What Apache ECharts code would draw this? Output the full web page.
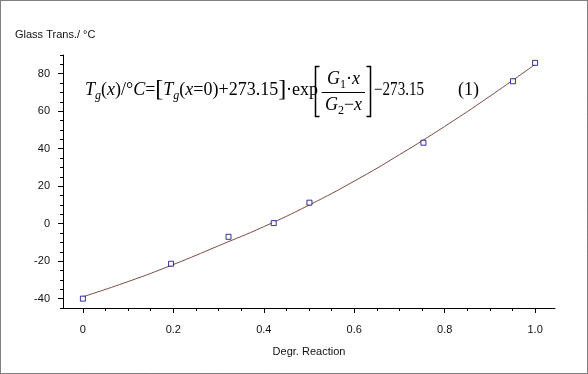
<!DOCTYPE html>
<html><head><meta charset="utf-8">
<script src="https://cdn.jsdelivr.net/npm/echarts@6/dist/echarts.min.js"></script>
<style>html,body{margin:0;padding:0;background:#fff}#c{width:588px;height:374px}</style>
</head><body><div id="c"></div>
<script>
// measured data points (degree of reaction, Tg in °C)
const pointX = [0, 0.195, 0.322, 0.422, 0.501, 0.753, 0.951, 1.0];
const pointY = [-40, -21.4, -7, 0.3, 11.2, 43.2, 76, 85.8];
// fitted curve
const curveX = [0, 0.1, 0.2, 0.3, 0.4, 0.5, 0.6, 0.7, 0.8, 0.9, 1.0];
const curveY = [-39, -30.9, -21.8, -11.8, -1.6, 9.9, 22.7, 36.8, 51.9, 68.0, 85];
// ticks
const xMajor = [0, 0.2, 0.4, 0.6, 0.8, 1.0];
const xMinor = [0.05, 0.1, 0.15, 0.25, 0.3, 0.35, 0.45, 0.5, 0.55, 0.65, 0.7, 0.75, 0.85, 0.9, 0.95];
const yMajor = [-40, -20, 0, 20, 40, 60, 80];
const yMinor = [-45, -35, -30, -25, -15, -10, -5, 5, 10, 15, 25, 30, 35, 45, 50, 55, 65, 70, 75, 85, 90];
const xName = 'Degr. Reaction';
const yName = 'Glass Trans./ °C';

const chart = echarts.init(document.getElementById('c'), null, {renderer: 'canvas'});
const SERIF = 'Liberation Serif';
const rich = {
  n: {fontFamily: SERIF, fontSize: 18, color: '#000'},
  i: {fontFamily: SERIF, fontSize: 18, fontStyle: 'italic', color: '#000'},
  s: {fontFamily: SERIF, fontSize: 12, fontStyle: 'italic', color: '#000', padding: [11, 0, 0, 0]},
  u: {fontFamily: SERIF, fontSize: 12, color: '#000', padding: [11, 0, 0, 0]},
  b: {fontFamily: SERIF, fontSize: 24, color: '#000'}
};
const axisCommon = {color: '#000', width: 1};
const labelFont = {fontFamily: 'Liberation Sans', fontSize: 11, color: '#111'};

chart.setOption({
  animation: false,
  backgroundColor: '#fff',
  grid: {left: 63, right: 33, top: 55, bottom: 66, containLabel: false},
  xAxis: [{
    type: 'value', min: -0.044, max: 1.044, position: 'bottom',
    name: xName, nameLocation: 'middle', nameGap: 38,
    nameTextStyle: {fontFamily: 'Liberation Sans', fontSize: 11, color: '#111'},
    axisLine: {show: true, onZero: false, lineStyle: axisCommon},
    axisTick: {show: true, length: 5, lineStyle: axisCommon, customValues: xMajor},
    axisLabel: Object.assign({margin: 16, customValues: xMajor,
      formatter: v => (Math.abs(v) < 1e-9 ? '0' : v.toFixed(1))}, labelFont),
    splitLine: {show: false}
  }, {
    type: 'value', min: -0.044, max: 1.044, position: 'bottom',
    axisLine: {show: false, onZero: false},
    axisTick: {show: true, length: 3, lineStyle: axisCommon, customValues: xMinor},
    axisLabel: {show: false},
    splitLine: {show: false}
  }],
  yAxis: [{
    type: 'value', min: -45, max: 90, position: 'left',
    axisLine: {show: true, onZero: false, lineStyle: axisCommon},
    axisTick: {show: true, length: 5, lineStyle: axisCommon, customValues: yMajor},
    axisLabel: Object.assign({margin: 13, customValues: yMajor}, labelFont),
    splitLine: {show: false}
  }, {
    type: 'value', min: -45, max: 90, position: 'left',
    axisLine: {show: false, onZero: false},
    axisTick: {show: true, length: 3, lineStyle: axisCommon, customValues: yMinor},
    axisLabel: {show: false},
    splitLine: {show: false}
  }],
  series: [{
    type: 'line', name: 'fit', xAxisIndex: 0, yAxisIndex: 0,
    data: curveX.map((x, k) => [x, curveY[k]]),
    smooth: true, showSymbol: false, silent: true,
    lineStyle: {color: '#7e4a42', width: 1}, z: 2
  }, {
    type: 'scatter', name: 'data', xAxisIndex: 0, yAxisIndex: 0,
    data: pointX.map((x, k) => [x, pointY[k]]),
    symbol: 'rect', symbolSize: 5,
    itemStyle: {color: '#fff', borderColor: '#000080', borderWidth: 1}, z: 3
  }],
  graphic: [
    {type: 'rect', silent: true, shape: {x: 0.5, y: 0.5, width: 587, height: 373},
     style: {fill: 'none', stroke: '#000', lineWidth: 1, lineDash: [1, 1]}},
    {type: 'text', silent: true, x: 15, y: 35,
     style: {text: yName, fontFamily: 'Liberation Sans', fontSize: 11, fill: '#111', verticalAlign: 'middle'}},
    // equation main line
    {type: 'text', silent: true, x: 85, y: 90,
     style: {text: '{i|T}{s|g}{n|(}{i|x}{n|)/°}{i|C}{n|=}{b|[}{i|T}{s|g}{n|(}{i|x}{n|=0)+273.15}{b|]}{n|·exp}',
       rich: rich, verticalAlign: 'middle', align: 'left'}},
    // fraction numerator / denominator
    {type: 'text', silent: true, x: 343.5, y: 79,
     style: {text: '{i|G}{u|1}{n|·}{i|x}', rich: rich, verticalAlign: 'middle', align: 'center'}},
    {type: 'text', silent: true, x: 343.5, y: 105,
     style: {text: '{i|G}{u|2}{n|−}{i|x}', rich: rich, verticalAlign: 'middle', align: 'center'}},
    {type: 'line', silent: true, shape: {x1: 321.7, y1: 92.5, x2: 365, y2: 92.5},
     style: {stroke: '#000', lineWidth: 1}},
    {type: 'polyline', silent: true, shape: {points: [[319.5, 66.5], [315.5, 66.5], [315.5, 116.5], [319.5, 116.5]]},
     style: {stroke: '#000', lineWidth: 1.5, fill: 'none'}},
    {type: 'polyline', silent: true, shape: {points: [[366.5, 66.5], [370.5, 66.5], [370.5, 116.5], [366.5, 116.5]]},
     style: {stroke: '#000', lineWidth: 1.5, fill: 'none'}},
    {type: 'text', silent: true, x: 374, y: 90, scaleX: 0.84,
     style: {text: '{n|−273.15}', rich: rich, verticalAlign: 'middle', align: 'left'}},
    {type: 'text', silent: true, x: 458, y: 90,
     style: {text: '{n|(1)}', rich: rich, verticalAlign: 'middle', align: 'left'}}
  ]
});
</script>
</body></html>
